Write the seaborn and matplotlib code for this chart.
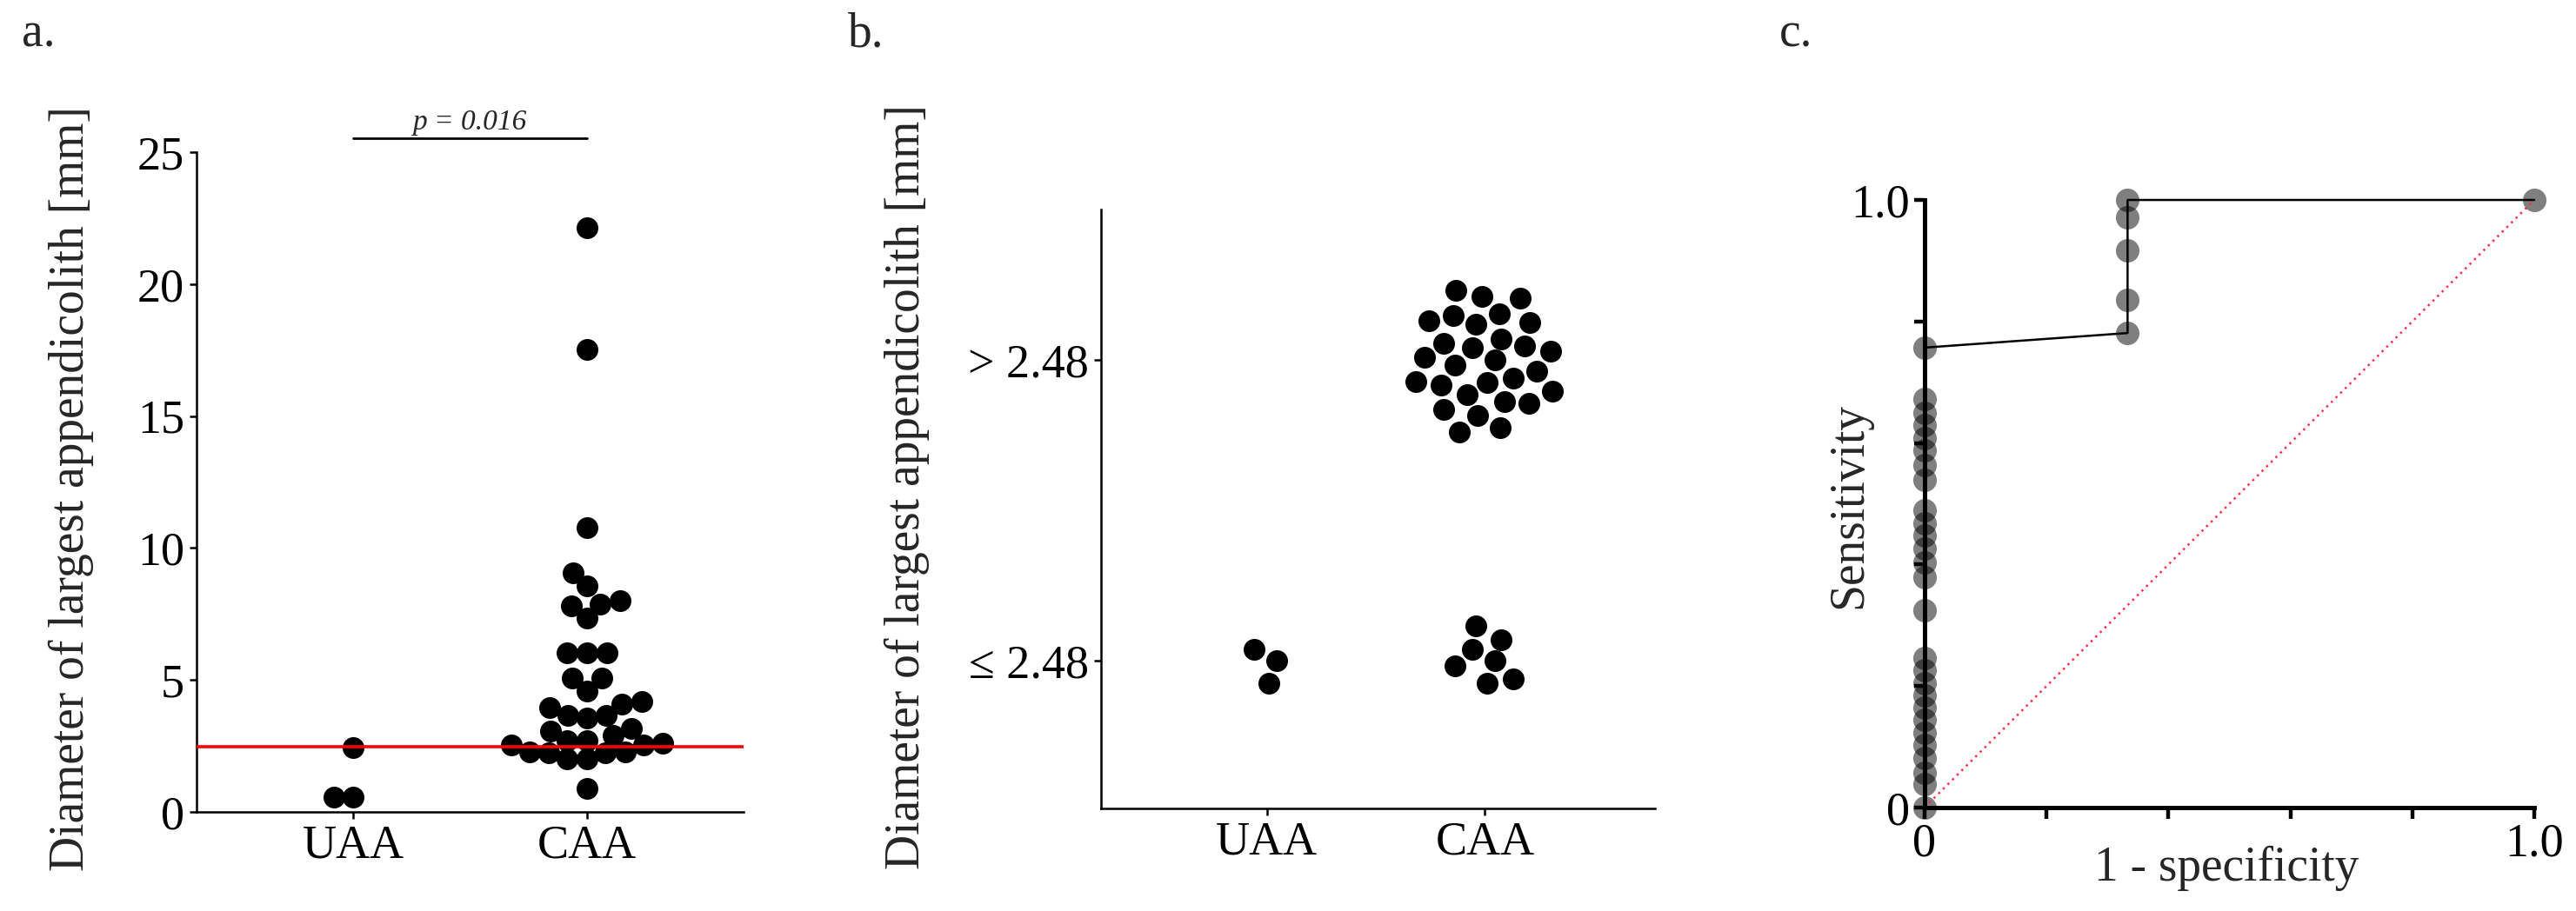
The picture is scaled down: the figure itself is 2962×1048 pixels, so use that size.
import numpy as np
import pandas as pd
import matplotlib
matplotlib.use("Agg")
import matplotlib.pyplot as plt
import seaborn as sns

sns.set_theme(style="ticks")
plt.rcParams["font.family"] = ["Liberation Serif", "DejaVu Serif"]

# data
groups = ["UAA", "CAA"]
uaa_diam = [2.45, 0.57, 0.57]
caa_diam = [22.13, 17.54, 10.77, 9.05, 8.55, 8.02, 7.88, 7.80, 7.36,
            6.02, 6.02, 6.02, 5.07, 5.07, 4.59, 4.18, 4.09, 3.96,
            3.66, 3.66, 3.55, 3.16, 3.07, 2.89, 2.71, 2.71, 2.59,
            2.54, 2.54, 2.27, 2.27, 2.25, 2.23, 2.00, 2.00, 0.88]
cutoff = 2.48
p_text = "p = 0.016"
level_labels = ["≤ 2.48", "> 2.48"]

roc_fpr = [0.0, 0.0, 0.0, 0.0, 0.0, 0.0, 0.0, 0.0, 0.0, 0.0,
           0.0, 0.0, 0.0, 0.0, 0.0, 0.0, 0.0, 0.0, 0.0, 0.0,
           0.0, 0.0, 0.0, 0.0, 0.0, 0.0, 0.0,
           0.333, 0.333, 0.333, 0.333, 0.333, 1.0]
roc_tpr = [0.0, 0.038, 0.058, 0.082, 0.103, 0.123, 0.144, 0.164, 0.185, 0.205,
           0.226, 0.246, 0.325, 0.379, 0.403, 0.427, 0.448, 0.468, 0.489, 0.540,
           0.564, 0.588, 0.608, 0.629, 0.649, 0.673, 0.757,
           0.781, 0.835, 0.917, 0.971, 1.0, 1.0]

df = pd.DataFrame({
    "group": ["UAA"] * len(uaa_diam) + ["CAA"] * len(caa_diam),
    "diameter": uaa_diam + caa_diam,
})
df["level"] = (df["diameter"] > cutoff).astype(int)


# sunflower packing used to spread the dots of panel b around their centre
def sunflower(n, step):
    i = np.arange(n)
    r = step * np.sqrt(i + 0.5)
    th = i * np.pi * (3 - np.sqrt(5))
    return r * np.cos(th), r * np.sin(th)


fig = plt.figure(figsize=(29.62, 10.48), dpi=100)
ax_a = fig.add_axes([0.0763, 0.1088, 0.2124, 0.724])
ax_b = fig.add_axes([0.4274, 0.1126, 0.2151, 0.6575])
ax_c = fig.add_axes([0.7471, 0.1135, 0.2367, 0.667])

tick_fs = 39
label_fs = 40

# ---------- panel a ----------
ax_a.set_xlim(-0.67, 1.67)
ax_a.set_ylim(0, 25)
sns.swarmplot(data=df, x="group", y="diameter", order=groups, color="black",
              size=15.5, linewidth=0, ax=ax_a)
ax_a.set_xlim(-0.67, 1.67)
ax_a.set_ylim(0, 25)
# lay the swarm out with smaller dots, then draw them larger (overlapping like the original)
fig.canvas.draw()
for coll in ax_a.collections:
    coll.__dict__.pop("draw", None)
    coll.set_sizes([18 ** 2])
    coll.set_clip_on(False)

ax_a.axhline(cutoff, color="#ff0000", lw=2.6, zorder=5)
ax_a.plot([0, 1], [25.55, 25.55], color="black", lw=2, clip_on=False)
ax_a.text(0.5, 25.85, p_text, style="italic", ha="center", va="baseline", fontsize=24)
ax_a.set_yticks([0, 5, 10, 15, 20, 25])
ax_a.set_xlabel("")
ax_a.set_ylabel("Diameter of largest appendicolith [mm]", fontsize=label_fs)
ax_a.yaxis.set_label_coords(-0.188, 0.49)

# ---------- panel b ----------
xlim_b = (-0.76, 1.78)
ylim_b = (-0.49, 1.5)
ax_b.set_xlim(*xlim_b)
ax_b.set_ylim(*ylim_b)
fig_w = fig.get_figwidth() * fig.dpi
fig_h = fig.get_figheight() * fig.dpi
x_per_px = (xlim_b[1] - xlim_b[0]) / (ax_b.get_position().width * fig_w)
y_per_px = (ylim_b[1] - ylim_b[0]) / (ax_b.get_position().height * fig_h)

parts = []
for gi, g in enumerate(groups):
    for lv in [0, 1]:
        sub = df[(df["group"] == g) & (df["level"] == lv)].copy()
        dx, dy = sunflower(len(sub), 16.5)
        sub["xpos"] = gi + dx * x_per_px
        sub["ypos"] = lv + dy * y_per_px
        parts.append(sub)
df_b = pd.concat(parts)

sns.scatterplot(data=df_b, x="xpos", y="ypos", color="black", s=18 ** 2,
                linewidth=0, ax=ax_b, legend=False)
ax_b.set_xlim(*xlim_b)
ax_b.set_ylim(*ylim_b)
ax_b.set_xticks([0, 1])
ax_b.set_xticklabels(groups)
ax_b.set_yticks([0, 1])
ax_b.set_yticklabels(level_labels)
ax_b.set_xlabel("")
ax_b.set_ylabel("Diameter of largest appendicolith [mm]", fontsize=label_fs)
ax_b.yaxis.set_label_coords(-0.309, 0.537)

for ax in [ax_a, ax_b]:
    sns.despine(ax=ax)
    for s in ["left", "bottom"]:
        ax.spines[s].set_linewidth(1.8)
        ax.spines[s].set_color("black")
    ax.tick_params(labelsize=tick_fs, length=6, width=1.8, pad=4, colors="black")

# ---------- panel c ----------
sns.lineplot(x=[0, 1], y=[0, 1], color="#ff2d4b", lw=1.8, linestyle=(0, (1, 2)), ax=ax_c)
sns.scatterplot(x=roc_fpr, y=roc_tpr, color="black", alpha=0.5, s=19.5 ** 2,
                linewidth=0, clip_on=False, zorder=1, ax=ax_c)
sns.lineplot(x=roc_fpr, y=roc_tpr, sort=False, estimator=None, color="black",
             lw=1.8, ax=ax_c, zorder=3, clip_on=False)
ax_c.set_xlim(0, 1)
ax_c.set_ylim(0, 1)
ax_c.set_xticks([0, 0.2, 0.4, 0.6, 0.8, 1.0])
ax_c.set_xticklabels(["0", "", "", "", "", "1.0"])
ax_c.set_yticks([0, 0.2, 0.4, 0.6, 0.8, 1.0])
ax_c.set_yticklabels(["0", "", "", "", "", "1.0"])
sns.despine(ax=ax_c)
for s in ["left", "bottom"]:
    ax_c.spines[s].set_linewidth(3.6)
    ax_c.spines[s].set_color("black")
ax_c.tick_params(labelsize=tick_fs, length=9, width=3.2, pad=3, colors="black")
ax_c.set_xlabel("1 - specificity", fontsize=label_fs)
ax_c.set_ylabel("Sensitivity", fontsize=label_fs)
ax_c.xaxis.set_label_coords(0.496, -0.062)
ax_c.yaxis.set_label_coords(-0.086, 0.498)

# panel letters
fig.text(25 / 2962, 1 - 53 / 1048, "a.", fontsize=40, va="baseline")
fig.text(975 / 2962, 1 - 53 / 1048, "b.", fontsize=40, va="baseline")
fig.text(2046 / 2962, 1 - 53 / 1048, "c.", fontsize=40, va="baseline")

fig.savefig("out.png", dpi=100, facecolor="white")
